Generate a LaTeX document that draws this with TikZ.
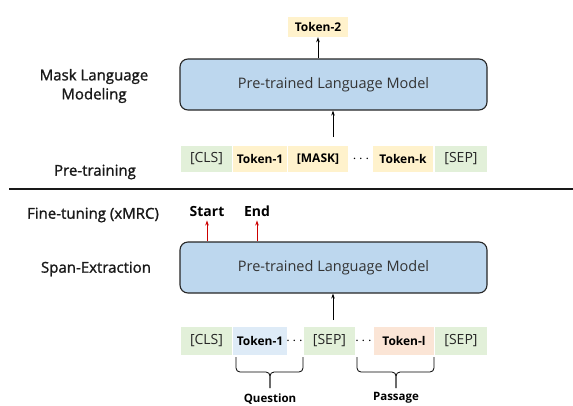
\documentclass[tikz,border=0pt]{standalone}
\usepackage{fontspec}
\setmainfont{Open Sans}
\newfontfamily\medfont{Open Sans}[FakeBold=1.3]
\usetikzlibrary{arrows.meta}
\definecolor{plmblue}{HTML}{BDD7EE}
\definecolor{tkgreen}{HTML}{E2F0D9}
\definecolor{tkyellow}{HTML}{FFF2CC}
\definecolor{tkblue}{HTML}{DEEBF7}
\definecolor{tksalmon}{HTML}{FBE5D6}
\tikzset{
  plm/.style={draw=black!85, line width=1.1pt, fill=plmblue, rounded corners=8pt,
    minimum width=307pt, minimum height=51pt, inner sep=0pt, font=\fontsize{14.5}{16}\selectfont, text=black!80},
  cell/.style={inner sep=0pt, minimum height=26pt, text=black},
  spc/.style={cell, font=\fontsize{14}{15}\selectfont, text=black!85},
  tok/.style={cell, font=\fontsize{12}{13}\bfseries},
  dots/.style={cell, font=\fontsize{15}{15}\selectfont},
  lab/.style={font=\fontsize{15}{19}\medfont, align=center, text=black!90},
  outlab/.style={font=\fontsize{14}{15}\bfseries},
  arr/.style={-{Stealth[length=5pt,width=3.5pt]}, line width=0.8pt},
  redarr/.style={arr, draw=red!80!black},
  brace/.style={line width=0.8pt, rounded corners=4pt},
  blab/.style={font=\fontsize{11.5}{12}\bfseries},
}
\begin{document}
\begin{tikzpicture}[x=1pt,y=-1pt]
\useasboundingbox (0,0) rectangle (573,405);
% ---------- Pre-training ----------
\node[lab] (mlm) at (94,86) {Mask Language\\Modeling};
\node[lab] (pt) at (95,172) {Pre-training};
\node[plm] (plm1) at (333.5,84.5) {Pre-trained Language Model};
\node[tok, fill=tkyellow, minimum width=60pt, minimum height=20pt] (t2) at (318,27) {Token-2};
\node[spc, fill=tkgreen, minimum width=51pt] (c1) at (206.5,159) {[CLS]};
\node[tok, fill=tkyellow, minimum width=54pt] (a1) at (260,159) {Token-1};
\node[tok, fill=tkyellow, minimum width=60pt] (m1) at (318,159) {[MASK]};
\node[dots] (d1) at (361,159) {$\cdots$};
\node[tok, fill=tkyellow, minimum width=60pt] (k1) at (403,159) {Token-k};
\node[spc, fill=tkgreen, minimum width=52pt] (s1) at (461,159) {[SEP]};
\coordinate (in1) at (333,137);
\draw[arr] (in1) -- (in1 |- plm1.south);
\draw[arr] (plm1.north -| t2) -- (t2.south);
% ---------- separator ----------
\coordinate (sepL) at (9,189);
\coordinate (sepR) at (573,189);
\draw[line width=2.6pt, black!90] (sepL) -- (sepR);
% ---------- Fine-tuning ----------
\node[lab] (ft) at (93,215) {Fine-tuning (xMRC)};
\node[lab] (se) at (96,269) {Span-Extraction};
\node[plm] (plm2) at (333.5,267.5) {Pre-trained Language Model};
\node[outlab] (st) at (207,211) {Start};
\node[outlab] (en) at (257,211) {End};
\draw[redarr] (plm2.north -| st) -- ++(0,-21);
\draw[redarr] (plm2.north -| en) -- ++(0,-21);
\node[spc, fill=tkgreen, minimum width=51pt, minimum height=28pt] (c2) at (206.5,341) {[CLS]};
\node[tok, fill=tkblue, minimum width=54pt, minimum height=28pt] (q1) at (260,341) {Token-1};
\node[dots] (d2) at (294.5,341) {$\cdots$};
\node[spc, fill=tkgreen, minimum width=51pt, minimum height=28pt] (s2) at (329.5,341) {[SEP]};
\node[dots] (d3) at (363.5,341) {$\cdots$};
\node[tok, fill=tksalmon, minimum width=60pt, minimum height=28pt] (p1) at (404,341) {Token-l};
\node[spc, fill=tkgreen, minimum width=52pt, minimum height=28pt] (s3) at (461,341) {[SEP]};
\coordinate (in2) at (333,320);
\draw[arr] (in2) -- (in2 |- plm2.south);
% braces
\coordinate (qa) at (236,357); \coordinate (qb) at (303,357);
\coordinate (qm) at (270,372); \coordinate (qt) at (270,388);
\draw[brace] (qa) |- (qm) -- (qt);
\draw[brace] (qb) |- (qm) -- (qt);
\coordinate (pa) at (357,357); \coordinate (pb) at (434,357);
\coordinate (pm) at (396,372); \coordinate (ptt) at (396,388);
\draw[brace] (pa) |- (pm) -- (ptt);
\draw[brace] (pb) |- (pm) -- (ptt);
\node[blab] (qlab) at (270,399) {Question};
\node[blab] (plab) at (396,398) {Passage};
\end{tikzpicture}
\end{document}
